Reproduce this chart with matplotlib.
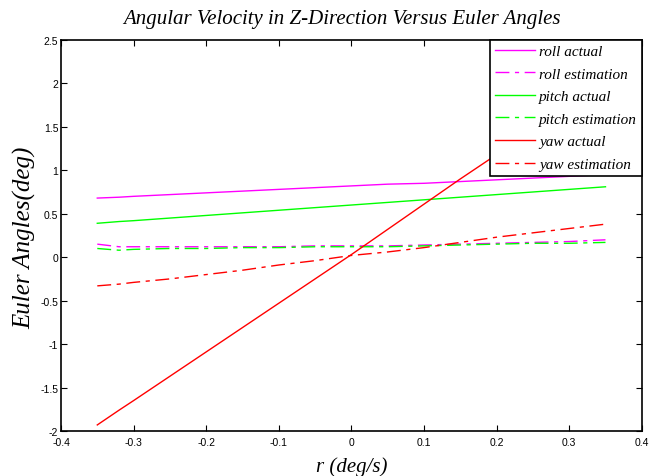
import numpy as np
import matplotlib.pyplot as plt

r = [-0.35, -0.32, -0.30, -0.25, -0.20, -0.15, -0.10, -0.05, 0.0, 0.05, 0.10, 0.15, 0.20, 0.25, 0.30, 0.35]

roll_actual = [0.68, 0.69, 0.70, 0.72, 0.74, 0.76, 0.78, 0.80, 0.82, 0.84, 0.85, 0.87, 0.89, 0.91, 0.93, 0.95]
roll_est = [0.15, 0.12, 0.12, 0.12, 0.12, 0.12, 0.12, 0.13, 0.13, 0.13, 0.14, 0.15, 0.16, 0.17, 0.18, 0.20]
pitch_actual = [0.39, 0.41, 0.42, 0.45, 0.48, 0.51, 0.54, 0.57, 0.60, 0.63, 0.66, 0.69, 0.72, 0.75, 0.78, 0.81]
pitch_est = [0.10, 0.08, 0.09, 0.10, 0.10, 0.11, 0.11, 0.12, 0.12, 0.12, 0.13, 0.14, 0.15, 0.16, 0.16, 0.17]
yaw_actual = [-1.93, -1.76, -1.65, -1.37, -1.09, -0.81, -0.53, -0.25, 0.03, 0.32, 0.61, 0.90, 1.18, 1.46, 1.73, 2.00]
yaw_est = [-0.33, -0.31, -0.29, -0.25, -0.20, -0.15, -0.09, -0.04, 0.02, 0.06, 0.11, 0.17, 0.23, 0.28, 0.33, 0.38]

fig = plt.figure(figsize=(6.6, 4.77), dpi=100)
ax = fig.add_axes([0.0924, 0.0943, 0.880, 0.820])

dd = (10, 4, 3, 4)
ax.plot(r, roll_actual, color='#ff00ff', lw=1, label='roll actual')
ax.plot(r, roll_est, color='#ff00ff', lw=1, ls='-.', dashes=dd, label='roll estimation')
ax.plot(r, pitch_actual, color='#00ff00', lw=1, label='pitch actual')
ax.plot(r, pitch_est, color='#00ff00', lw=1, ls='-.', dashes=dd, label='pitch estimation')
ax.plot(r, yaw_actual, color='#ff0000', lw=1, label='yaw actual')
ax.plot(r, yaw_est, color='#ff0000', lw=1, ls='-.', dashes=dd, label='yaw estimation')

ax.set_xlim(-0.4, 0.4)
ax.set_ylim(-2, 2.5)
ax.set_xticks(np.arange(-0.4, 0.41, 0.1))
ax.set_yticks(np.arange(-2, 2.51, 0.5))
ax.set_xticklabels(['-0.4', '-0.3', '-0.2', '-0.1', '0', '0.1', '0.2', '0.3', '0.4'])
ax.set_yticklabels(['-2', '-1.5', '-1', '-0.5', '0', '0.5', '1', '1.5', '2', '2.5'])
ax.tick_params(labelsize=7.5, direction='in', length=4, pad=2, right=True, top=True)
ax.tick_params(axis='x', pad=4)
for lab in ax.get_xticklabels() + ax.get_yticklabels():
    lab.set_family('Liberation Sans')
for s in ax.spines.values():
    s.set_linewidth(1.2)

serif = {'family': 'Liberation Serif', 'style': 'italic'}
ax.set_title('Angular Velocity in Z-Direction Versus Euler Angles', fontsize=15, pad=12, x=0.484, **serif)
ax.set_xlabel('r (deg/s)', fontsize=15, labelpad=7, **serif)
ax.set_ylabel('Euler Angles(deg)', fontsize=18, **serif)
ax.yaxis.set_label_coords(-0.043, 0.497)

leg = ax.legend(loc='upper right', bbox_to_anchor=(1.0, 1.0), borderaxespad=0,
                prop={'family': 'Liberation Serif', 'style': 'italic', 'size': 11},
                handlelength=2.6, fancybox=False, edgecolor='black',
                framealpha=1, labelspacing=0.58, handletextpad=0.3,
                borderpad=0.3)
leg.get_frame().set_linewidth(1.2)

plt.savefig('out.png')
